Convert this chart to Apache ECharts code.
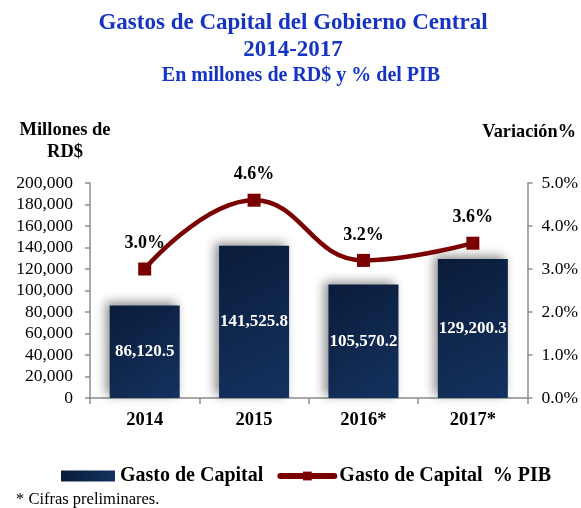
<!DOCTYPE html>
<html>
<head>
<meta charset="utf-8">
<script src="https://cdn.jsdelivr.net/npm/echarts@6/dist/echarts.min.js"></script>
<style>
  html, body { margin: 0; padding: 0; background: #fff; }
  #chart { width: 581px; height: 508px; }
</style>
</head>
<body>
<div id="chart"></div>
<script>
// datos
const years = ["2014", "2015", "2016*", "2017*"];
const gastoCapital = [86120.5, 141525.8, 105570.2, 129200.3];
const gastoPib = [3.0, 4.6, 3.2, 3.6];

const serif = "'Liberation Serif', 'Times New Roman', serif";

let myChart = echarts.init(document.getElementById("chart"));

let option = {
  backgroundColor: "#fff",
  animation: false,
  title: [
    {
      text: "Gastos de Capital del Gobierno Central\n2014-2017",
      left: 288,
      top: 5,
      textAlign: "center",
      textStyle: {
        fontFamily: serif,
        fontWeight: "bold",
        fontSize: 23,
        lineHeight: 27,
        color: "#1634C4",
      },
    },
    {
      text: "En millones de RD$ y % del PIB",
      left: 296,
      top: 61,
      textAlign: "center",
      textStyle: {
        fontFamily: serif,
        fontWeight: "bold",
        fontSize: 20,
        color: "#1634C4",
      },
    },
    {
      text: "* Cifras preliminares.",
      left: 11,
      top: 486,
      textStyle: {
        fontFamily: serif,
        fontWeight: "normal",
        fontSize: 16.5,
        color: "#000",
      },
    },
  ],
  legend: {
    top: 461,
    left: 56,
    itemGap: 14,
    itemWidth: 54,
    itemHeight: 11,
    textStyle: {
      fontFamily: serif,
      fontWeight: "bold",
      fontSize: 20,
      color: "#000",
    },
    data: [
      { name: "Gasto de Capital", icon: "rect" },
      {
        name: "Gasto de Capital  % PIB",
        lineStyle: { width: 6, cap: "round" },
        itemStyle: { color: "#7a0000" },
      },
    ],
  },
  grid: {
    left: 90,
    right: 50,
    top: 183,
    bottom: 110,
  },
  xAxis: {
    type: "category",
    data: years,
    axisLine: { lineStyle: { color: "#8c8c8c", width: 1.5 } },
    axisTick: { show: true, length: 6, lineStyle: { color: "#8c8c8c", width: 1.5 } },
    axisLabel: {
      fontFamily: serif,
      fontWeight: "bold",
      fontSize: 18.5,
      color: "#000",
      margin: 13,
    },
  },
  yAxis: [
    {
      type: "value",
      min: 0,
      max: 200000,
      interval: 20000,
      name: "Millones de\nRD$",
      nameLocation: "end",
      nameGap: 20,
      nameTextStyle: {
        fontFamily: serif,
        fontWeight: "bold",
        fontSize: 18.5,
        lineHeight: 22,
        color: "#000",
        align: "center",
        padding: [0, 50, 0, 0],
      },
      axisLine: { show: true, lineStyle: { color: "#8c8c8c", width: 1.5 } },
      axisTick: { show: true, length: 5, lineStyle: { color: "#8c8c8c", width: 1.5 } },
      splitLine: { show: false },
      axisLabel: {
        fontFamily: serif,
        fontSize: 17.5,
        color: "#000",
        margin: 17,
        formatter: (v) => v.toLocaleString("en-US"),
      },
    },
    {
      type: "value",
      min: 0,
      max: 5,
      interval: 1,
      position: "right",
      name: "Variación%",
      nameLocation: "end",
      nameGap: 42,
      nameTextStyle: {
        fontFamily: serif,
        fontWeight: "bold",
        fontSize: 18.3,
        color: "#000",
        align: "center",
        padding: [0, 0, 0, 3],
      },
      axisLine: { show: true, lineStyle: { color: "#8c8c8c", width: 1.5 } },
      axisTick: { show: true, length: 5, lineStyle: { color: "#8c8c8c", width: 1.5 } },
      splitLine: { show: false },
      axisLabel: {
        fontFamily: serif,
        fontSize: 17.5,
        color: "#000",
        margin: 14,
        formatter: (v) => v.toFixed(1) + "%",
      },
    },
  ],
  series: [
    {
      name: "Gasto de Capital",
      type: "bar",
      data: gastoCapital,
      barWidth: "64%",
      itemStyle: {
        color: new echarts.graphic.LinearGradient(0, 0, 1, 1, [
          { offset: 0, color: "#0a1c3a" },
          { offset: 1, color: "#14325f" },
        ]),
        shadowColor: "rgba(0,0,0,0.45)",
        shadowBlur: 10,
        shadowOffsetX: -4,
        shadowOffsetY: -3,
      },
      label: {
        show: true,
        position: "inside",
        fontFamily: serif,
        fontWeight: "bold",
        fontSize: 17,
        color: "#fff",
        formatter: (p) =>
          p.value.toLocaleString("en-US", { minimumFractionDigits: 1, maximumFractionDigits: 1 }),
      },
    },
    {
      name: "Gasto de Capital  % PIB",
      type: "line",
      yAxisIndex: 1,
      data: gastoPib,
      smooth: 0.45,
      symbol: "rect",
      symbolSize: 13,
      lineStyle: { color: "#7a0000", width: 4.5 },
      itemStyle: { color: "#7a0000" },
      label: {
        show: true,
        position: "top",
        distance: 10,
        fontFamily: serif,
        fontWeight: "bold",
        fontSize: 18,
        color: "#000",
        formatter: (p) => p.value.toFixed(1) + "%",
      },
    },
  ],
};

myChart.setOption(option);
</script>
</body>
</html>
